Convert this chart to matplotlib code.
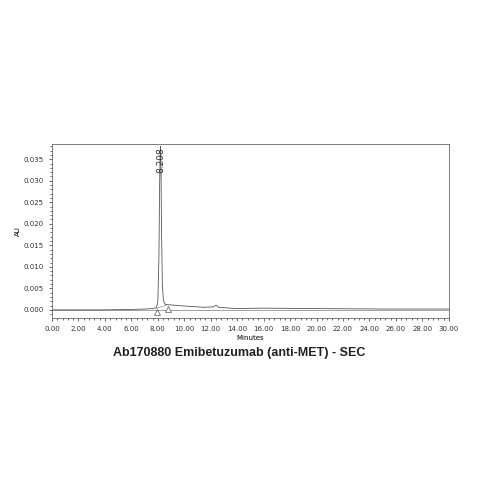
import matplotlib.pyplot as plt
from matplotlib.ticker import MultipleLocator

# chromatogram trace
time_min = [0.0, 2.0, 4.0, 6.0, 7.0, 7.6, 7.9, 8.0, 8.08, 8.14, 8.18, 8.208, 8.24, 8.28, 8.34, 8.42, 8.55, 8.8,
            10.0, 11.5, 12.2, 12.4, 12.6, 13.5, 14.0, 16.0, 20.0, 25.0, 30.0]
au = [0.0, 0.0, 0.0, 0.0001, 0.0002, 0.0003, 0.0005, 0.002, 0.012, 0.030, 0.037, 0.0380, 0.033, 0.018, 0.006,
      0.0022, 0.0013, 0.0012, 0.0009, 0.0006, 0.0007, 0.0011, 0.0006, 0.0004, 0.0003, 0.0004, 0.0003, 0.0002, 0.0002]
peak_rt = 8.208
peak_au = 0.0380
marker_t = [7.95, 8.75]
marker_y = [-0.0005, 0.0001]

fig = plt.figure(figsize=(4.79, 4.79), dpi=100)
ax = fig.add_axes([0.1086, 0.336, 0.8284, 0.363])
ax.plot(time_min, au, color='#555555', lw=0.6)
ax.plot([0, 30], [0, 0], color='#555555', lw=0.4)
ax.plot([7.9, 8.7], [0.0003, 0.0012], color='#777777', lw=0.4)
ax.scatter(marker_t, marker_y, marker='^', s=18, facecolors='white', edgecolors='#555555', lw=0.5, zorder=3)
ax.text(peak_rt, 0.0317, f'{peak_rt:.3f}', rotation=90, ha='center', va='bottom', fontsize=6.5, color='#333333')

ax.set_xlim(0, 30)
ax.set_ylim(-0.0019, 0.0385)
ax.set_xticks(range(0, 31, 2))
ax.set_xticklabels([f'{v:.2f}' for v in range(0, 31, 2)])
ax.xaxis.set_minor_locator(MultipleLocator(0.4))
ax.set_yticks([0, 0.005, 0.01, 0.015, 0.02, 0.025, 0.03, 0.035])
ax.set_yticklabels([f'{v:.3f}' for v in [0, 0.005, 0.01, 0.015, 0.02, 0.025, 0.03, 0.035]])
ax.yaxis.set_minor_locator(MultipleLocator(0.001))
ax.tick_params(labelsize=5, length=2.5, width=0.5, colors='#333333')
ax.tick_params(which='minor', length=1.5, width=0.4)
for s in ax.spines.values():
    s.set_linewidth(0.6)
    s.set_color('#666666')
ax.set_xlabel('Minutes', fontsize=5, labelpad=2)
ax.set_ylabel('AU', fontsize=5, labelpad=2)

fig.text(0.5, 0.263, 'Ab170880 Emibetuzumab (anti-MET) - SEC', ha='center', va='center',
         fontsize=9, fontweight='bold', color='#222222', family='Liberation Sans')
fig.savefig('out.png', dpi=100)
